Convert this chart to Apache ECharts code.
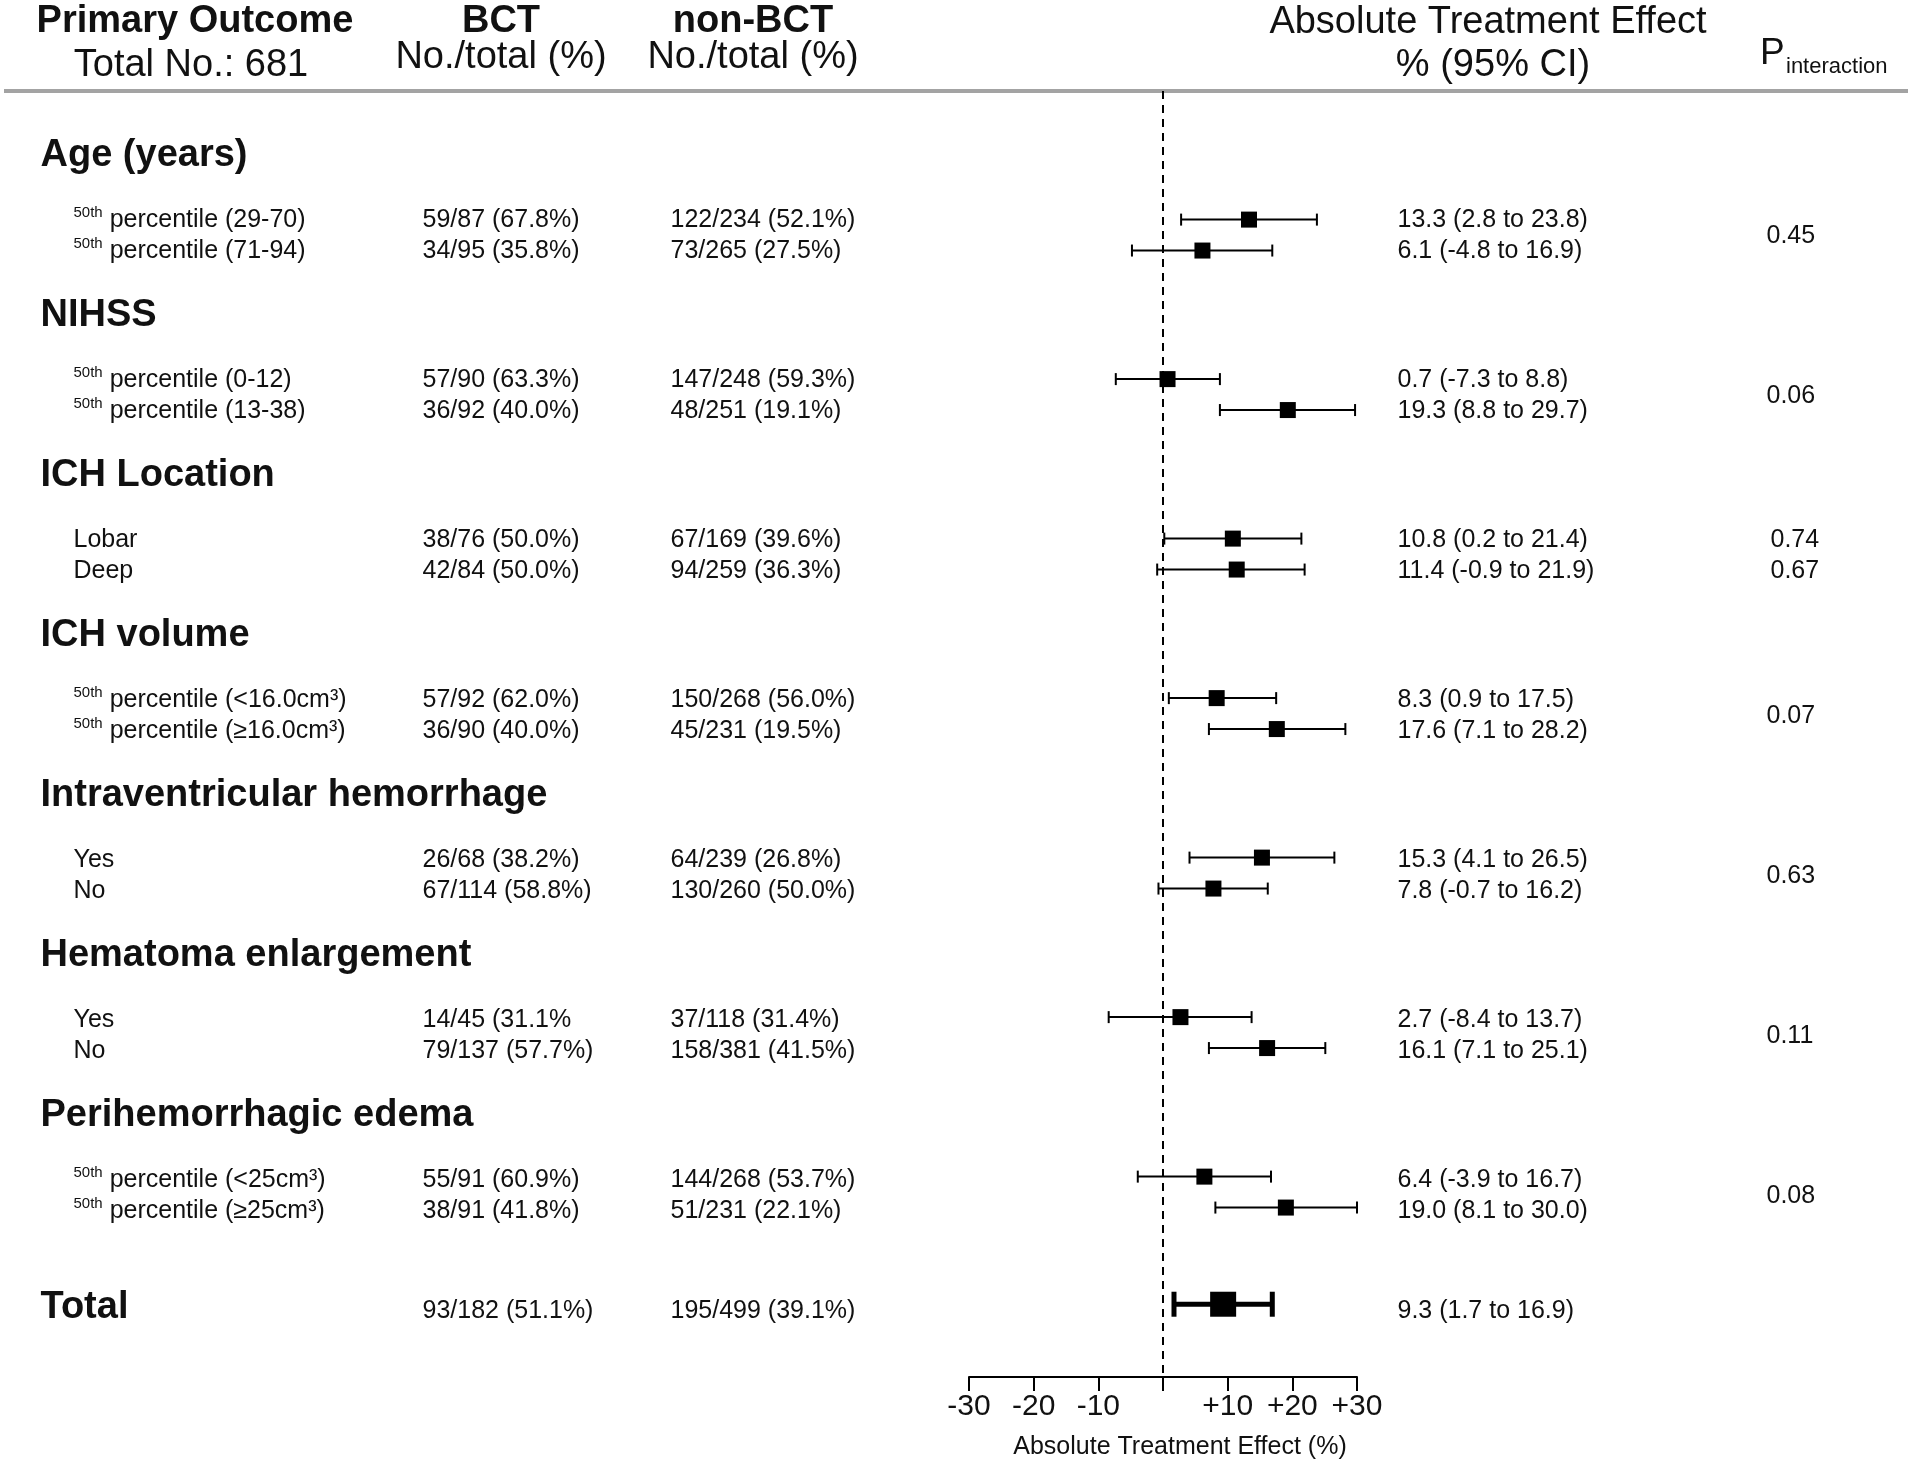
<!DOCTYPE html>
<html>
<head>
<meta charset="utf-8">
<script src="https://cdn.jsdelivr.net/npm/echarts@6/dist/echarts.min.js"></script>
<style>
html, body { margin: 0; padding: 0; background: #fff; }
#forest { width: 1908px; height: 1465px; }
</style>
</head>
<body>
<div id="forest"></div>
<script>
// subgroup data, two rows per group
var groupNames = ['Age (years)', 'NIHSS', 'ICH Location', 'ICH volume',
    'Intraventricular hemorrhage', 'Hematoma enlargement', 'Perihemorrhagic edema'];
var subgroupLabels = [
    '50th percentile (29-70)', '50th percentile (71-94)',
    '50th percentile (0-12)', '50th percentile (13-38)',
    'Lobar', 'Deep',
    '50th percentile (<16.0cm³)', '50th percentile (≥16.0cm³)',
    'Yes', 'No',
    'Yes', 'No',
    '50th percentile (<25cm³)', '50th percentile (≥25cm³)'
];
var bctCounts = ['59/87 (67.8%)', '34/95 (35.8%)', '57/90 (63.3%)', '36/92 (40.0%)',
    '38/76 (50.0%)', '42/84 (50.0%)', '57/92 (62.0%)', '36/90 (40.0%)',
    '26/68 (38.2%)', '67/114 (58.8%)', '14/45 (31.1%', '79/137 (57.7%)',
    '55/91 (60.9%)', '38/91 (41.8%)'];
var nonBctCounts = ['122/234 (52.1%)', '73/265 (27.5%)', '147/248 (59.3%)', '48/251 (19.1%)',
    '67/169 (39.6%)', '94/259 (36.3%)', '150/268 (56.0%)', '45/231 (19.5%)',
    '64/239 (26.8%)', '130/260 (50.0%)', '37/118 (31.4%)', '158/381 (41.5%)',
    '144/268 (53.7%)', '51/231 (22.1%)'];
var effect = [13.3, 6.1, 0.7, 19.3, 10.8, 11.4, 8.3, 17.6, 15.3, 7.8, 2.7, 16.1, 6.4, 19.0];
var ciLow  = [2.8, -4.8, -7.3, 8.8, 0.2, -0.9, 0.9, 7.1, 4.1, -0.7, -8.4, 7.1, -3.9, 8.1];
var ciHigh = [23.8, 16.9, 8.8, 29.7, 21.4, 21.9, 17.5, 28.2, 26.5, 16.2, 13.7, 25.1, 16.7, 30.0];
var pInteraction = [['0.45'], ['0.06'], ['0.74', '0.67'], ['0.07'], ['0.63'], ['0.11'], ['0.08']];

var totalLabel = 'Total';
var totalBct = '93/182 (51.1%)';
var totalNonBct = '195/499 (39.1%)';
var totalEffect = 9.3, totalLow = 1.7, totalHigh = 16.9;

var xMin = -30, xMax = 30, xStep = 10;

// layout
var FONT = 'Liberation Sans, Arial, Helvetica, sans-serif';
var INK = '#111';
var ROW0 = 156, PITCH = 32;          // pixel of row 0 and row pitch
var PLOT_TOP = 91, AXIS_Y = 1381;
var COL = { group: 40, sub: 73, bct: 422, nonBct: 670, ci: 1397, p: 1766 };
var TOTAL_ROW = 36;

function rowOf(i) { return Math.floor(i / 2) * 5 + 2 + (i % 2) * 0.97; }
function fmt(v) { return v.toFixed(1); }

// text rows
var labelItems = [], bctItems = [], nonItems = [], ciItems = [], pItems = [];
groupNames.forEach(function (name, g) {
    labelItems.push({ value: [COL.group, g * 5], label: { formatter: '{h|' + name + '}' } });
    var ps = pInteraction[g];
    if (ps.length === 1) {
        pItems.push({ value: [COL.p, g * 5 + 2.5], label: { formatter: ps[0] } });
    } else {
        ps.forEach(function (p, k) { pItems.push({ value: [COL.p + 4, rowOf(g * 2 + k)], label: { formatter: p } }); });
    }
});
subgroupLabels.forEach(function (s, i) {
    var r = rowOf(i);
    var txt = s.indexOf('50th ') === 0 ? '{s|50th}{t| ' + s.slice(5) + '}' : '{t|' + s + '}';
    labelItems.push({ value: [COL.sub, r], label: { formatter: txt } });
    bctItems.push({ value: [COL.bct, r], label: { formatter: bctCounts[i] } });
    nonItems.push({ value: [COL.nonBct, r], label: { formatter: nonBctCounts[i] } });
    ciItems.push({ value: [COL.ci, r], label: { formatter: fmt(effect[i]) + ' (' + fmt(ciLow[i]) + ' to ' + fmt(ciHigh[i]) + ')' } });
});
labelItems.push({ value: [COL.group, TOTAL_ROW], label: { formatter: '{h|' + totalLabel + '}' } });
bctItems.push({ value: [COL.bct, TOTAL_ROW + 0.1], label: { formatter: totalBct } });
nonItems.push({ value: [COL.nonBct, TOTAL_ROW + 0.1], label: { formatter: totalNonBct } });
ciItems.push({ value: [COL.ci, TOTAL_ROW + 0.1], label: { formatter: fmt(totalEffect) + ' (' + fmt(totalLow) + ' to ' + fmt(totalHigh) + ')' } });

function textSeries(items) {
    return {
        type: 'scatter', xAxisIndex: 1, yAxisIndex: 1, symbolSize: 1, silent: true,
        itemStyle: { color: 'transparent', opacity: 1 },
        label: {
            show: true, position: 'right', distance: 0, color: INK, fontFamily: FONT, fontSize: 25,
            rich: {
                h: { fontSize: 38, fontWeight: 'bold', fontFamily: FONT, color: INK },
                s: { fontSize: 15, fontFamily: FONT, color: INK, verticalAlign: 'top', lineHeight: 22 },
                t: { fontSize: 25, fontFamily: FONT, color: INK, lineHeight: 30 }
            }
        },
        data: items
    };
}

function errorBar(capHalf, width) {
    return function (params, api) {
        var a = api.coord([api.value(0), api.value(2)]);
        var b = api.coord([api.value(1), api.value(2)]);
        function ln(x1, y1, x2, y2) {
            return { type: 'line', shape: { x1: x1, y1: y1, x2: x2, y2: y2 }, style: { stroke: '#000', lineWidth: width } };
        }
        return { type: 'group', children: [
            ln(a[0], a[1], b[0], b[1]),
            ln(a[0], a[1] - capHalf, a[0], a[1] + capHalf),
            ln(b[0], b[1] - capHalf, b[0], b[1] + capHalf)
        ] };
    };
}

var barData = effect.map(function (v, i) { return [ciLow[i], ciHigh[i], rowOf(i)]; });
var pointData = effect.map(function (v, i) { return [v, rowOf(i)]; });

function headText(x, y, text, bold, size) {
    return { type: 'text', x: x, y: y, style: {
        text: text, font: (bold ? 'bold ' : '') + size + 'px ' + FONT, fill: INK, align: 'center', verticalAlign: 'middle' } };
}

var chart = echarts.init(document.getElementById('forest'));
chart.setOption({
    backgroundColor: '#fff',
    animation: false,
    textStyle: { fontFamily: FONT },
    grid: [
        { left: 969, width: 388, top: PLOT_TOP, height: AXIS_Y - PLOT_TOP },
        { left: 0, width: 1908, top: 0, height: AXIS_Y }
    ],
    xAxis: [{
        type: 'value', min: xMin, max: xMax, interval: xStep, position: 'bottom',
        axisLine: { onZero: false, lineStyle: { color: '#000', width: 2 } },
        axisTick: { show: true, length: 14, lineStyle: { color: '#000', width: 2 } },
        splitLine: { show: false },
        axisLabel: {
            color: INK, fontSize: 30, margin: 15, fontFamily: FONT,
            formatter: function (v) { return v > 0 ? '+' + v : (v === 0 ? '' : String(v)); }
        },
        name: 'Absolute Treatment Effect (%)', nameLocation: 'middle', nameGap: 58,
        nameTextStyle: { color: INK, fontSize: 25, fontFamily: FONT, padding: [0, 0, 0, 34] }
    }, {
        type: 'value', gridIndex: 1, min: 0, max: 1908, show: false
    }],
    yAxis: [{
        type: 'value', inverse: true, show: false,
        min: (PLOT_TOP - ROW0) / PITCH, max: (AXIS_Y - ROW0) / PITCH
    }, {
        type: 'value', gridIndex: 1, inverse: true, show: false,
        min: (0 - ROW0) / PITCH, max: (AXIS_Y - ROW0) / PITCH
    }],
    graphic: [
        { type: 'line', shape: { x1: 4, y1: 91, x2: 1908, y2: 91 }, style: { stroke: '#a3a3a3', lineWidth: 4 } },
        headText(195, 22, 'Primary Outcome', true, 38),
        headText(191, 66, 'Total No.: 681', false, 38),
        headText(501, 22, 'BCT', true, 38),
        headText(501, 58, 'No./total (%)', false, 38),
        headText(753, 22, 'non-BCT', true, 38),
        headText(753, 58, 'No./total (%)', false, 38),
        headText(1488, 23, 'Absolute Treatment Effect', false, 38),
        headText(1493, 66, '% (95% CI)', false, 38),
        { type: 'text', x: 1760, y: 54, style: { text: 'P', font: '37px ' + FONT, fill: INK, align: 'left', verticalAlign: 'middle' } },
        { type: 'text', x: 1786, y: 67, style: { text: 'interaction', font: '22px ' + FONT, fill: INK, align: 'left', verticalAlign: 'middle' } }
    ],
    series: [
        {
            type: 'custom', renderItem: errorBar(6, 2), encode: { x: [0, 1], y: 2 }, data: barData, silent: true
        },
        {
            type: 'scatter', symbol: 'rect', symbolSize: 16, itemStyle: { color: '#000', opacity: 1 }, data: pointData, silent: true,
            markLine: {
                silent: true, symbol: 'none', label: { show: false },
                lineStyle: { color: '#000', width: 2, type: [8, 6], opacity: 1 },
                data: [{ xAxis: 0 }]
            }
        },
        {
            type: 'custom', renderItem: errorBar(12.5, 5), encode: { x: [0, 1], y: 2 },
            data: [[totalLow, totalHigh, TOTAL_ROW]], silent: true
        },
        {
            type: 'scatter', symbol: 'rect', symbolSize: [26, 25], itemStyle: { color: '#000', opacity: 1 },
            data: [[totalEffect, TOTAL_ROW]], silent: true
        },
        textSeries(labelItems),
        textSeries(bctItems),
        textSeries(nonItems),
        textSeries(ciItems),
        textSeries(pItems)
    ]
});
</script>
</body>
</html>
